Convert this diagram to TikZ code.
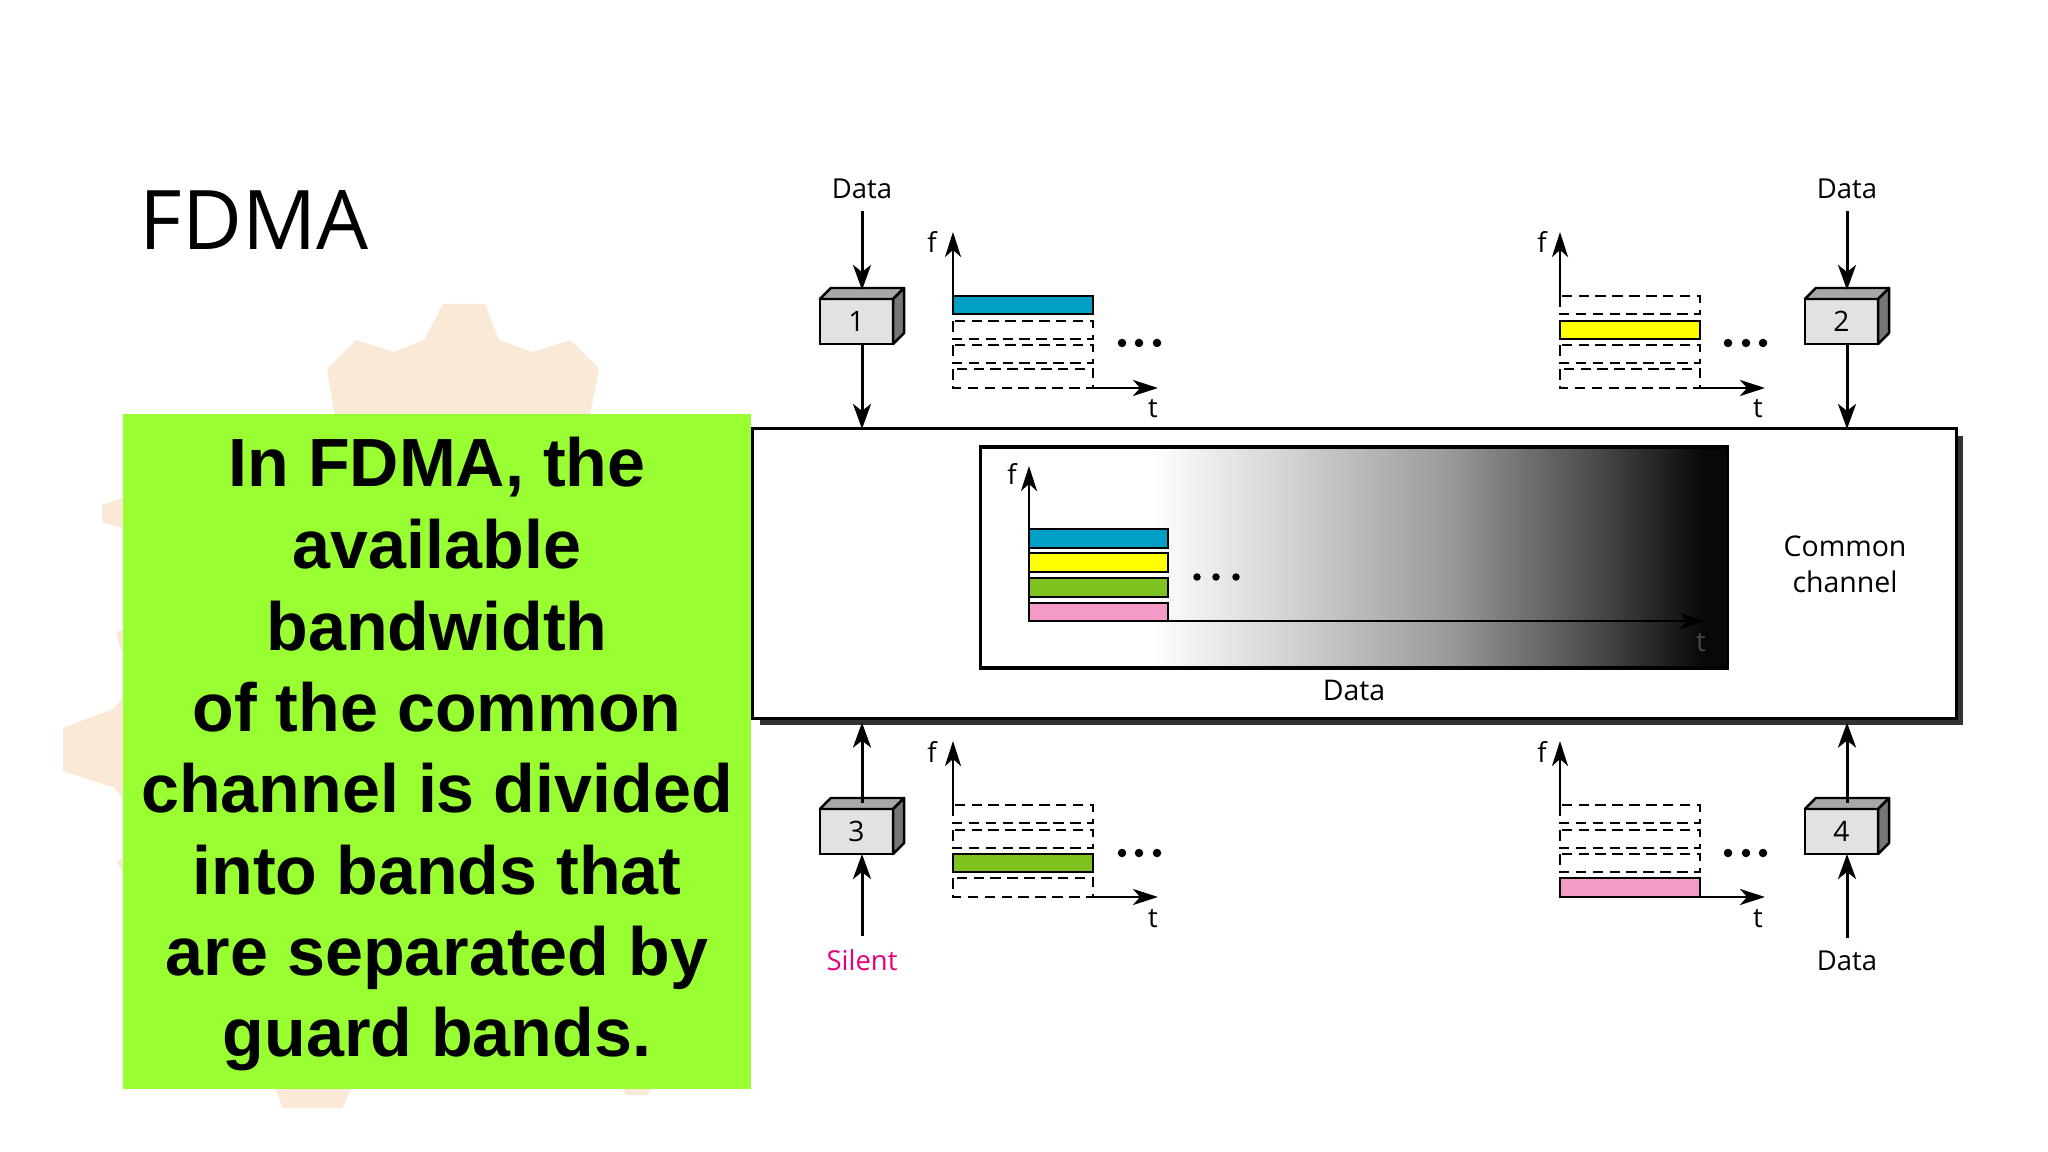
\documentclass[tikz,border=0pt]{standalone}
\usepackage{fontspec}
\setmainfont{Open Sans}
\newfontfamily\arialb{Liberation Sans}
\usetikzlibrary{arrows.meta,shadows}
\definecolor{lime}{RGB}{153,255,51}
\definecolor{peach}{RGB}{250,233,214}
\definecolor{bcyan}{RGB}{0,160,198}
\definecolor{byellow}{RGB}{255,255,0}
\definecolor{bgreen}{RGB}{125,194,30}
\definecolor{bpink}{RGB}{244,154,200}
\definecolor{silentc}{RGB}{230,0,126}
\definecolor{boxfront}{RGB}{226,226,226}
\definecolor{boxtop}{RGB}{168,168,168}
\definecolor{boxside}{RGB}{118,118,118}
\pgfdeclarehorizontalshading{gradbox}{100bp}{color(0bp)=(white); color(25bp)=(white); color(36.3bp)=(white); color(45.9bp)=(black!18); color(56.5bp)=(black!40); color(66.5bp)=(black!72); color(73.5bp)=(black!97); color(100bp)=(black!97)}
\begin{document}
\begin{tikzpicture}[x=0.01cm,y=-0.01cm,
  lbl/.style={font=\fontsize{7.8pt}{9pt}\selectfont, inner sep=0pt, anchor=base},
  clbl/.style={font=\fontsize{8.1pt}{9.5pt}\selectfont, inner sep=0pt, anchor=base},
  gtext/.style={font=\arialb\bfseries\fontsize{19.4pt}{22pt}\selectfont, anchor=base, inner sep=0pt},
  arr/.style={line width=0.85pt, -{Stealth[length=0.25cm,width=0.18cm,inset=0.07cm]}},
  axisarr/.style={line width=0.75pt, -{Stealth[length=0.25cm,width=0.16cm,inset=0.07cm]}},
  band/.style={draw=black, line width=0.75pt},
  guard/.style={draw=black, line width=0.7pt, dash pattern=on 3pt off 1.8pt},
  dotn/.style={circle, fill=black, inner sep=0pt, minimum size=0.085cm},
  idot/.style={circle, fill=black, inner sep=0pt, minimum size=0.075cm},
  stbox/.style={draw=black, line width=0.7pt, fill=boxfront, minimum width=0.73cm, minimum height=0.45cm, inner sep=0pt, outer sep=0pt, font=\fontsize{8pt}{9pt}\selectfont},
  boxface/.style={draw=black, line width=0.7pt, line join=round}
]
\useasboundingbox (0,0) rectangle (2048,1152);
\fill[white] (0,0) rectangle (2048,1152);

% background gear fragments
\fill[peach] (337,430) -- (327,369) -- (356,340) -- (394,352) -- (424,340) -- (443,304) -- (485,304) -- (499,340) -- (533,352) -- (570,340) -- (599,369) -- (587,430) -- cycle;
\fill[peach] (130,495) -- (102,505) -- (102,522) -- (130,530) -- cycle;
\fill[peach] (130,625) -- (116,633) -- (121,650) -- (130,660) -- cycle;
\fill[peach] (130,685) -- (115,708) -- (63,728) -- (63,771) -- (115,788) -- (130,810) -- cycle;
\fill[peach] (130,850) -- (117,862) -- (122,872) -- (130,874) -- cycle;
\fill[peach] (272,1080) -- (283,1108) -- (342,1108) -- (356,1080) -- cycle;
\fill[peach] (620,1085) -- (626,1095) -- (648,1095) -- (652,1085) -- cycle;

% title
\node[anchor=base west, inner sep=0pt, font=\fontsize{23.4pt}{26pt}\selectfont] (title) at (139,250) {FDMA};

% green text box
\node[fill=lime, minimum width=6.28cm, minimum height=6.75cm, inner sep=0pt, outer sep=0pt, anchor=north west] (gb) at (123,414) {};
\node[gtext] (g1) at (437,487) {In FDMA, the};
\node[gtext] (g2) at (437,568) {available};
\node[gtext] (g3) at (437,650) {bandwidth};
\node[gtext] (g4) at (437,731) {of the common};
\node[gtext] (g5) at (437,812) {channel is divided};
\node[gtext] (g6) at (437,894) {into bands that};
\node[gtext] (g7) at (437,975) {are separated by};
\node[gtext] (g8) at (437,1056) {guard bands.};

% common channel
\node[draw=black, line width=0.9pt, fill=white, minimum width=12.03cm, minimum height=2.89cm, inner sep=0pt, outer sep=0pt,
  drop shadow={shadow xshift=0.07cm, shadow yshift=-0.07cm, fill=black!80, opacity=1}] (ch) at (1354.5,573.5) {};
\node[draw=black, line width=0.9pt, shade, shading=gradbox, minimum width=7.46cm, minimum height=2.21cm, inner sep=0pt, outer sep=0pt] (ib) at (1354,557.5) {};

% inner plot
\draw[band, fill=bcyan] (1029,529) rectangle (1168,548);
\draw[band, fill=byellow] (1029,553) rectangle (1168,572);
\draw[band, fill=bgreen] (1029,578) rectangle (1168,597);
\draw[band, fill=bpink] (1029,603) rectangle (1168,621);
\coordinate (io) at (1029,621);
\draw[axisarr] (io) -- (1029,466);
\draw[axisarr] (io) -- (1705,621);
\node[lbl] (if) at (1012,485) {f};
\node[lbl, text=black!72] (it) at (1701,652) {t};
\node[idot] (id1) at (1197,577) {};
\node[idot] (id2) at (1216,577) {};
\node[idot] (id3) at (1236,577) {};
\node[clbl] (chdata) at (1354,700) {Data};
\node[clbl] (cc1) at (1845,557) {Common};
\node[clbl] (cc2) at (1845,593) {channel};

% plot 1
\begin{scope}[shift={(953,388)}]
\draw[band, fill=bcyan] (0,-92) rectangle (140,-74);
\draw[guard] (0,-67) rectangle (140,-49);
\draw[guard] (0,-43) rectangle (140,-25);
\draw[guard] (0,-19) rectangle (140,0);
\draw[axisarr] (0,-92) -- (0,-156);
\draw[axisarr] (140,0) -- (205,0);
\node[lbl] (pf1) at (-21,-135) {f};
\node[lbl] (pt1) at (200,30) {t};
\node[dotn] (pa1) at (169,-45) {};
\node[dotn] (pb1) at (186,-45) {};
\node[dotn] (pc1) at (204,-45) {};
\end{scope}

% plot 2
\begin{scope}[shift={(1560,388)}]
\draw[guard] (0,-92) rectangle (140,-74);
\draw[band, fill=byellow] (0,-67) rectangle (140,-49);
\draw[guard] (0,-43) rectangle (140,-25);
\draw[guard] (0,-19) rectangle (140,0);
\draw[axisarr] (0,-92) -- (0,-156);
\draw[axisarr] (140,0) -- (205,0);
\node[lbl] (pf2) at (-18,-135) {f};
\node[lbl] (pt2) at (198,30) {t};
\node[dotn] (pa2) at (168,-45) {};
\node[dotn] (pb2) at (186,-45) {};
\node[dotn] (pc2) at (203,-45) {};
\end{scope}

% plot 3
\begin{scope}[shift={(953,897)}]
\draw[guard] (0,-92) rectangle (140,-74);
\draw[guard] (0,-67) rectangle (140,-49);
\draw[band, fill=bgreen] (0,-43) rectangle (140,-25);
\draw[guard] (0,-19) rectangle (140,0);
\draw[axisarr] (0,-92) -- (0,-156);
\draw[axisarr] (140,0) -- (205,0);
\node[lbl] (pf3) at (-21,-135) {f};
\node[lbl] (pt3) at (200,30) {t};
\node[dotn] (pa3) at (169,-44) {};
\node[dotn] (pb3) at (186,-44) {};
\node[dotn] (pc3) at (204,-44) {};
\end{scope}

% plot 4
\begin{scope}[shift={(1560,897)}]
\draw[guard] (0,-92) rectangle (140,-74);
\draw[guard] (0,-67) rectangle (140,-49);
\draw[guard] (0,-43) rectangle (140,-25);
\draw[band, fill=bpink] (0,-19) rectangle (140,0);
\draw[axisarr] (0,-92) -- (0,-156);
\draw[axisarr] (140,0) -- (205,0);
\node[lbl] (pf4) at (-18,-135) {f};
\node[lbl] (pt4) at (198,30) {t};
\node[dotn] (pa4) at (168,-44) {};
\node[dotn] (pb4) at (186,-44) {};
\node[dotn] (pc4) at (203,-44) {};
\end{scope}

% stations
\node[stbox] (b1) at (856.5,321.5) {1};
\node[stbox] (b2) at (1841.5,321.5) {2};
\node[stbox] (b3) at (856.5,831.5) {3};
\node[stbox] (b4) at (1841.5,831.5) {4};
\foreach \b in {b1,b2,b3,b4}{
  \filldraw[boxface, fill=boxtop] (\b.north west) -- ++(11,-11) -- ++(73,0) -- (\b.north east) -- cycle;
  \filldraw[boxface, fill=boxside] (\b.north east) -- ++(11,-11) -- ++(0,45) -- (\b.south east) -- cycle;
}
\coordinate (k1) at (862,290);
\coordinate (k2) at (1847,290);
\coordinate (k3) at (862,803);
\coordinate (k4) at (1847,803);

\node[lbl] (dat1) at (862,199) {Data};
\node[lbl] (dat2) at (1847,199) {Data};
\node[lbl, text=silentc] (sil3) at (862,970) {Silent};
\node[lbl] (dat4) at (1847,970) {Data};

\draw[arr] ([yshift=-0.11cm]dat1.south) -- (k1);
\draw[arr] ([yshift=-0.11cm]dat2.south) -- (k2);
\draw[arr] (b1.south -| k1) -- (ch.north -| k1);
\draw[arr] (b2.south -| k2) -- (ch.north -| k2);
\draw[arr] ([yshift=0.12cm]sil3.north) -- (b3.south -| k3);
\draw[arr] ([yshift=0.12cm]dat4.north) -- (b4.south -| k4);
\draw[arr] (k3) -- ([yshift=-0.045cm]ch.south -| k3);
\draw[arr] (k4) -- ([yshift=-0.045cm]ch.south -| k4);
\end{tikzpicture}
\end{document}
